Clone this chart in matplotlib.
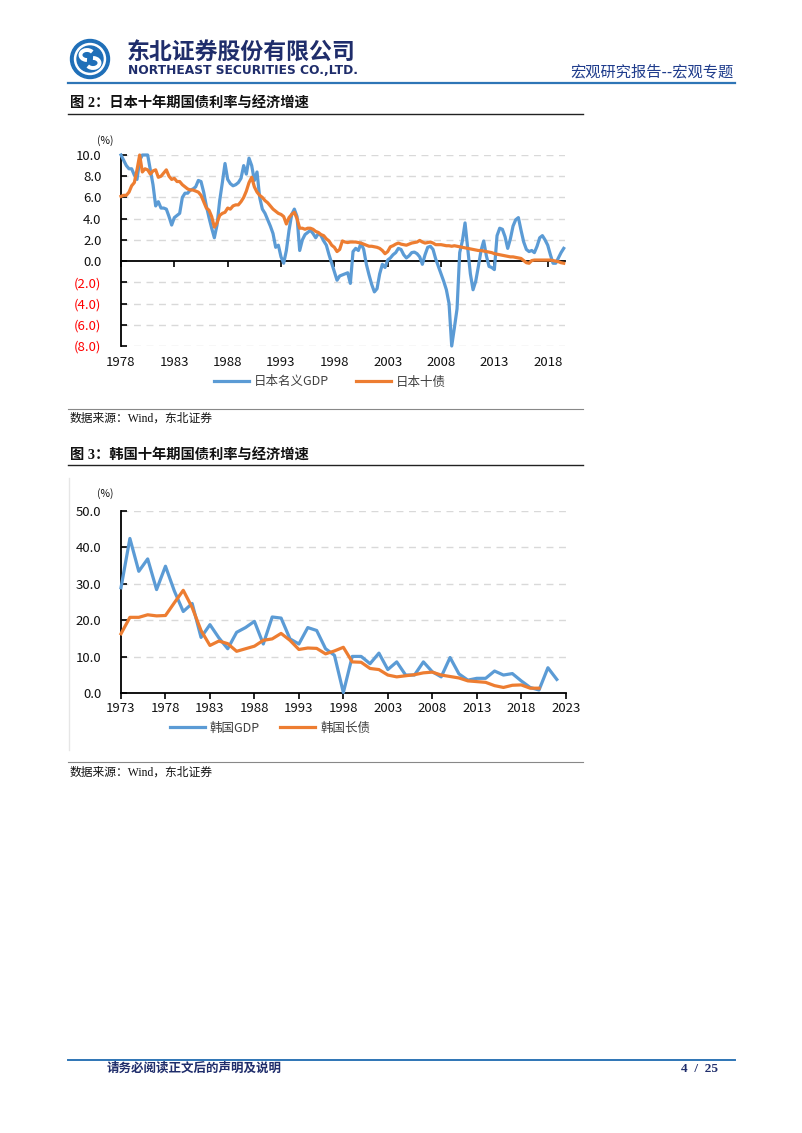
import matplotlib
matplotlib.use('Agg')
import matplotlib.pyplot as plt
import numpy as np
import pandas as pd
from matplotlib.patches import Circle, Arc

plt.rcParams['font.family'] = ['Noto Sans CJK SC', 'DejaVu Sans']

W, H = 802, 1133

blue = '#5B9BD5'
orange = '#ED7D31'
navy = '#1F2D6B'
headblue = '#2E75B6'

# Japan, quarterly from 1978Q1: nominal GDP yoy (%) and 10y JGB yield (%)
jp_start = '1978Q1'
jp_gdp = [10.0, 9.5, 9.0, 8.7, 8.7, 8.1, 7.7, 9.5, 10.0, 10.0,
          10.0, 8.6, 7.2, 5.2, 5.6, 5.0, 5.0, 4.9, 4.2, 3.4,
          4.1, 4.3, 4.5, 6.0, 6.4, 6.4, 6.7, 6.8, 7.0, 7.6,
          7.5, 6.5, 5.2, 4.1, 3.1, 2.2, 3.4, 5.7, 7.4, 9.2,
          7.7, 7.3, 7.1, 7.2, 7.4, 7.8, 9.0, 8.2, 9.7, 9.0,
          7.6, 8.4, 6.0, 4.9, 4.5, 3.9, 3.3, 2.6, 1.3, 1.5,
          0.4, -0.2, 1.0, 2.9, 4.4, 4.9, 4.2, 1.0, 2.0, 2.5,
          2.7, 2.9, 2.6, 2.2, 2.6, 2.4, 1.9, 1.5, 0.6, -0.2,
          -1.0, -1.8, -1.4, -1.3, -1.2, -1.1, -2.1, 0.9, 1.2, 1.0,
          1.7, 1.1, -0.3, -1.3, -2.2, -2.9, -2.6, -1.2, -0.3, -0.6,
          0.1, 0.3, 0.6, 0.8, 1.2, 1.1, 0.6, 0.3, 0.5, 0.8,
          0.85, 0.7, 0.4, -0.3, 0.6, 1.3, 1.4, 1.1, 0.2, -0.5,
          -1.2, -1.9, -2.7, -4.0, -8.0, -6.3, -4.5, 0.8, 1.9, 3.6,
          1.2, -1.2, -2.7, -1.9, -0.5, 1.0, 1.9, 0.5, -0.5, -0.6,
          -0.8, 2.4, 3.1, 3.0, 2.3, 1.2, 2.1, 3.3, 3.9, 4.1,
          2.9, 1.8, 1.1, 0.9, 1.0, 0.8, 1.4, 2.2, 2.4, 2.0,
          1.5, 0.6, -0.2, -0.2, 0.3, 0.8, 1.2]
jp_bond = [6.1, 6.2, 6.2, 6.5, 7.1, 7.4, 8.6, 10.0, 8.4, 8.7,
           8.6, 8.2, 8.5, 8.6, 7.9, 8.0, 8.3, 8.6, 8.0, 7.7,
           7.8, 7.5, 7.5, 7.2, 7.0, 6.8, 6.7, 6.7, 6.6, 6.5,
           6.2, 5.6, 5.0, 4.8, 4.2, 3.2, 3.6, 4.3, 4.5, 4.6,
           5.0, 4.9, 5.2, 5.3, 5.3, 5.6, 6.0, 6.6, 7.4, 7.9,
           7.0, 6.5, 6.2, 6.0, 5.7, 5.5, 5.2, 4.9, 4.7, 4.5,
           4.4, 4.2, 3.5, 4.1, 4.4, 4.6, 4.0, 3.1, 3.1, 3.0,
           3.1, 3.1, 3.0, 2.8, 2.7, 2.5, 2.4, 2.1, 1.9, 1.5,
           1.3, 0.9, 1.1, 1.9, 1.8, 1.75, 1.8, 1.8, 1.8, 1.75,
           1.7, 1.6, 1.5, 1.4, 1.4, 1.35, 1.3, 1.2, 1.0, 0.7,
           0.9, 1.35, 1.45, 1.6, 1.7, 1.6, 1.55, 1.5, 1.6, 1.7,
           1.75, 1.8, 1.95, 1.8, 1.7, 1.75, 1.8, 1.7, 1.55, 1.55,
           1.55, 1.5, 1.45, 1.45, 1.4, 1.45, 1.4, 1.35, 1.3, 1.25,
           1.2, 1.15, 1.1, 1.05, 1.0, 1.0, 0.95, 0.9, 0.85, 0.8,
           0.7, 0.65, 0.6, 0.55, 0.5, 0.45, 0.4, 0.4, 0.35, 0.3,
           0.25, 0.05, -0.15, -0.2, 0.05, 0.1, 0.1, 0.1, 0.1, 0.1,
           0.1, 0.1, 0.05, 0.0, -0.05, -0.15, -0.2]
jp_yticks = [10, 8, 6, 4, 2, 0, -2, -4, -6, -8]
jp_ylabels = ['10.0', '8.0', '6.0', '4.0', '2.0', '0.0', '(2.0)', '(4.0)', '(6.0)', '(8.0)']
jp_xticks = [1978, 1983, 1988, 1993, 1998, 2003, 2008, 2013, 2018]

# Korea, annual
kr_gdp_years = list(range(1973, 2023))
kr_gdp = [28.9, 42.4, 33.4, 36.8, 28.4, 34.8, 28.0, 22.4, 24.6, 15.3,
          18.8, 15.2, 12.2, 16.7, 18.0, 19.7, 13.5, 20.9, 20.6, 14.9,
          13.5, 18.0, 17.2, 12.2, 10.4, 0.2, 10.1, 10.1, 8.1, 11.0,
          6.5, 8.6, 5.0, 5.0, 8.6, 5.9, 4.5, 9.8, 5.3, 3.6,
          4.1, 4.1, 6.1, 5.0, 5.4, 3.4, 1.6, 0.9, 7.0, 3.8]
kr_bond_years = list(range(1973, 2021))
kr_bond = [16.3, 20.8, 20.8, 21.5, 21.2, 21.3, 24.8, 28.2, 23.5, 17.2,
           13.1, 14.3, 13.6, 11.5, 12.2, 12.9, 14.5, 14.9, 16.4, 14.5,
           12.0, 12.4, 12.3, 10.8, 11.6, 12.6, 8.6, 8.5, 6.8, 6.5,
           5.0, 4.5, 4.8, 5.1, 5.6, 5.8, 5.0, 4.6, 4.2, 3.4,
           3.2, 3.0, 2.1, 1.6, 2.2, 2.3, 1.4, 1.4]
kr_yticks = [0, 10, 20, 30, 40, 50]
kr_xticks = list(range(1973, 2024, 5))

fig = plt.figure(figsize=(W / 100, H / 100), dpi=100, facecolor='w')

# page decoration layer, pixel coordinates
page = fig.add_axes([0, 0, 1, 1])
page.set_xlim(0, W)
page.set_ylim(H, 0)
page.axis('off')

serif_cjk = ['Liberation Serif', 'Noto Sans CJK SC']

# logo
page.add_patch(Circle((90, 59), 19.5, color='#1F6FB8'))
page.add_patch(Circle((90, 59), 15.5, color='w'))
page.add_patch(Circle((90, 59), 13, color='#1F6FB8'))
page.add_patch(Arc((87, 55), 13, 10, theta1=90, theta2=330, color='w', lw=2.8))
page.add_patch(Arc((93, 63), 13, 10, theta1=270, theta2=510, color='w', lw=2.8))
page.text(127, 52, '东北证券股份有限公司', fontsize=16.5, fontweight='bold',
          color=navy, va='center', ha='left')
page.text(128, 71, 'NORTHEAST SECURITIES CO.,LTD.', fontsize=8.8, fontweight='bold',
          family='DejaVu Sans', color=navy, va='center', ha='left')
page.text(734, 72, '宏观研究报告--宏观专题', fontsize=11, color='#1F3C8C',
          va='center', ha='right')
page.plot([68, 735], [83, 83], color=headblue, lw=1.6)

# section titles and sources
page.text(70, 104, '图 2：日本十年期国债利率与经济增速', fontsize=10.3, fontweight='bold',
          family=serif_cjk, color='#111111', va='center')
page.plot([68, 583], [114, 114], color='#222222', lw=1.0)
page.plot([68, 583], [409, 409], color='#888888', lw=0.8)
page.text(70, 419, '数据来源：Wind，东北证券', fontsize=8.5, family=serif_cjk,
          color='#111111', va='center')

page.text(70, 456, '图 3：韩国十年期国债利率与经济增速', fontsize=10.3, fontweight='bold',
          family=serif_cjk, color='#111111', va='center')
page.plot([68, 583], [465, 465], color='#222222', lw=1.0)
page.plot([69, 69], [478, 750], color='#e6e6e6', lw=1.0)
page.plot([68, 583], [762, 762], color='#888888', lw=0.8)
page.text(70, 773, '数据来源：Wind，东北证券', fontsize=8.5, family=serif_cjk,
          color='#111111', va='center')

# footer
page.plot([68, 735], [1060, 1060], color=headblue, lw=1.4)
page.text(107, 1069, '请务必阅读正文后的声明及说明', fontsize=9, fontweight='bold',
          family=serif_cjk, color=navy, va='center')
page.text(718, 1069, '4  /  25', fontsize=9.5, fontweight='bold',
          family='Liberation Serif', color=navy, va='center', ha='right')

grid_kw = dict(color='#d9d9d9', lw=1.0, ls=(0, (5, 4)))

# ---- Japan chart ----
q = pd.period_range(jp_start, periods=len(jp_gdp), freq='Q')
jp_x = q.year + (q.quarter - 1) / 4.0

ax1 = fig.add_axes([121 / W, 1 - 346 / H, 444 / W, 191 / H])
ax1.set_xlim(1978, 2019.62)
ax1.set_ylim(-8, 10)
for v in jp_yticks:
    if v != 0:
        ax1.axhline(v, zorder=0, **grid_kw)
ax1.plot(jp_x, jp_gdp, color=blue, lw=2.3, label='日本名义GDP', clip_on=False, zorder=3)
ax1.plot(jp_x, jp_bond, color=orange, lw=2.3, label='日本十债', clip_on=False, zorder=4)
for s in ['top', 'right']:
    ax1.spines[s].set_visible(False)
ax1.spines['left'].set_linewidth(1.3)
ax1.spines['bottom'].set_position(('data', 0))
ax1.spines['bottom'].set_linewidth(1.3)
ax1.spines['bottom'].set_zorder(2)
ax1.set_yticks(jp_yticks)
ax1.set_yticklabels(jp_ylabels)
for lab, v in zip(ax1.get_yticklabels(), jp_yticks):
    lab.set_color('#FF0000' if v < 0 else '#111111')
ax1.tick_params(axis='y', direction='in', length=4, width=1.2, pad=14, labelsize=9.5)
ax1.set_xticks(jp_xticks)
ax1.tick_params(axis='x', direction='out', length=4, width=1.2, labelbottom=False)
sec1 = ax1.secondary_xaxis('bottom')
sec1.set_xticks(jp_xticks)
sec1.tick_params(length=0, pad=7, labelsize=9.5, labelcolor='#111111')
sec1.spines['bottom'].set_visible(False)
page.text(105, 141, '(%)', fontsize=7.5, color='#111111', ha='center', va='center')
ax1.legend(loc='center', bbox_to_anchor=(330 / W, 1 - 382 / H),
           bbox_transform=fig.transFigure, ncol=2, frameon=False, fontsize=9,
           handlelength=2.8, handletextpad=0.4, columnspacing=2.2,
           labelcolor='#404040')

# ---- Korea chart ----
ax2 = fig.add_axes([121 / W, 1 - 693.3 / H, 444.7 / W, 182.6 / H])
ax2.set_xlim(1973, 2023)
ax2.set_ylim(0, 50)
for v in kr_yticks[1:]:
    ax2.axhline(v, zorder=0, **grid_kw)
ax2.plot(kr_gdp_years, kr_gdp, color=blue, lw=2.3, label='韩国GDP', clip_on=False, zorder=3)
ax2.plot(kr_bond_years, kr_bond, color=orange, lw=2.3, label='韩国长债', clip_on=False, zorder=4)
for s in ['top', 'right']:
    ax2.spines[s].set_visible(False)
ax2.spines['left'].set_linewidth(1.3)
ax2.spines['bottom'].set_linewidth(1.3)
ax2.set_yticks(kr_yticks)
ax2.set_yticklabels([f'{v:.1f}' for v in kr_yticks])
ax2.tick_params(axis='y', direction='in', length=4, width=1.2, pad=14, labelsize=9.5,
                labelcolor='#111111')
ax2.set_xticks(kr_xticks)
ax2.tick_params(axis='x', direction='out', length=4, width=1.2, pad=2, labelsize=9.5,
                labelcolor='#111111')
page.text(105, 494, '(%)', fontsize=7.5, color='#111111', ha='center', va='center')
ax2.legend(loc='center', bbox_to_anchor=(270 / W, 1 - 728 / H),
           bbox_transform=fig.transFigure, ncol=2, frameon=False, fontsize=9,
           handlelength=2.8, handletextpad=0.4, columnspacing=1.6,
           labelcolor='#404040')

fig.savefig('out.png', dpi=100, facecolor='w')
